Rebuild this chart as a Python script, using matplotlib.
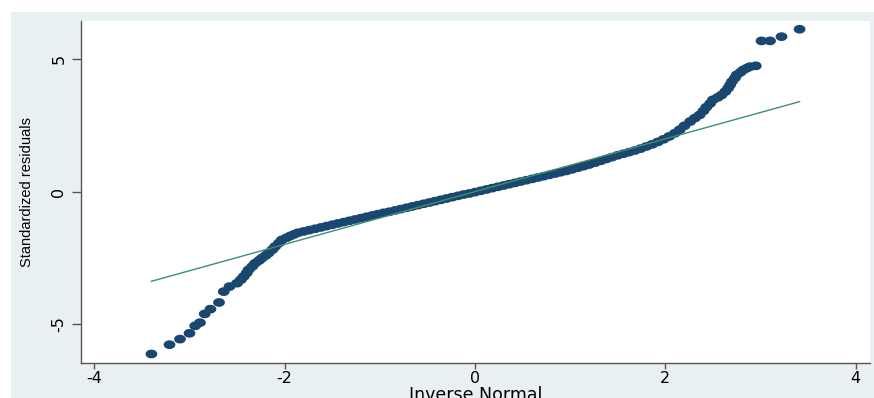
import numpy as np
import matplotlib
matplotlib.use("Agg")
import matplotlib.pyplot as plt
from matplotlib.path import Path
from matplotlib.patches import Rectangle

# quantile pairs: inverse normal (x) vs standardized residuals (y)
inv_normal = [
    -3.40, -3.21, -3.10, -3.00, -2.94, -2.89, -2.84, -2.78, -2.69, -2.64,
    -2.58, -2.50, -2.46, -2.43, -2.40, -2.38, -2.34, -2.31, -2.27, -2.24,
    -2.20, -2.17, -2.13, -2.10, -2.06, -2.03, -1.98, -1.94, -1.90,
    -1.86, -1.80, -1.74, -1.68, -1.62, -1.56, -1.50, -1.44, -1.38, -1.32,
    -1.26, -1.20, -1.14, -1.08, -1.02, -0.96, -0.90, -0.84, -0.78, -0.72,
    -0.66, -0.60, -0.54, -0.48, -0.42, -0.36, -0.30, -0.24, -0.18, -0.12,
    -0.06, 0.00, 0.06, 0.12, 0.18, 0.24, 0.30, 0.36, 0.42, 0.48,
    0.54, 0.60, 0.66, 0.72, 0.78, 0.84, 0.90, 0.96, 1.02, 1.08,
    1.14, 1.20, 1.26, 1.32, 1.38, 1.44, 1.50, 1.56, 1.62, 1.68,
    1.74, 1.80, 1.86, 1.92, 1.98, 2.04, 2.10,
    2.15, 2.20, 2.26, 2.31, 2.36, 2.40, 2.43, 2.47, 2.50, 2.55,
    2.59, 2.63, 2.66, 2.68, 2.70, 2.73, 2.75, 2.79, 2.82, 2.86,
    2.89, 2.95, 3.01, 3.10, 3.22, 3.41,
]
std_resid = [
    -6.12, -5.77, -5.56, -5.34, -5.06, -4.94, -4.61, -4.43, -4.18, -3.77,
    -3.58, -3.45, -3.32, -3.20, -3.07, -2.95, -2.82, -2.70, -2.60, -2.51,
    -2.41, -2.32, -2.19, -2.07, -1.94, -1.82, -1.74, -1.67, -1.61,
    -1.55, -1.50, -1.45, -1.40, -1.35, -1.30, -1.25, -1.20, -1.15, -1.10,
    -1.05, -1.00, -0.95, -0.90, -0.85, -0.80, -0.76, -0.71, -0.66, -0.61,
    -0.56, -0.51, -0.46, -0.41, -0.36, -0.31, -0.26, -0.21, -0.16, -0.11,
    -0.07, -0.02, 0.03, 0.08, 0.13, 0.18, 0.23, 0.28, 0.33, 0.38,
    0.43, 0.48, 0.53, 0.58, 0.63, 0.68, 0.73, 0.78, 0.84, 0.90,
    0.96, 1.02, 1.09, 1.16, 1.23, 1.30, 1.37, 1.43, 1.49, 1.55,
    1.62, 1.70, 1.78, 1.87, 1.97, 2.08, 2.20,
    2.33, 2.48, 2.64, 2.77, 2.89, 3.04, 3.18, 3.32, 3.46, 3.55,
    3.64, 3.77, 3.90, 4.02, 4.15, 4.28, 4.40, 4.50, 4.59, 4.66,
    4.71, 4.74, 5.68, 5.68, 5.84, 6.12,
]

# reference line end points
ref_x = [-3.40, 3.41]
ref_y = [-3.38, 3.39]

x_ticks = [-4, -2, 0, 2, 4]
y_ticks = [-5, 0, 5]

navy = "#1a476f"
green = "#3f8f6c"
panel = "#e9f0f2"

# slightly wide ellipse marker (the source image is stretched sideways)
t = np.linspace(0, 2 * np.pi, 40)
ellipse = Path(np.column_stack([1.35 * np.cos(t), np.sin(t)]), closed=True)

fig = plt.figure(figsize=(8.74, 3.98), dpi=100)
fig.patch.set_facecolor("white")
bg = Rectangle((11 / 874, 0), 1 - 11 / 874, 1 - 12 / 398,
               transform=fig.transFigure, facecolor=panel,
               edgecolor="none", zorder=-10)
fig.add_artist(bg)

ax = fig.add_axes([81 / 874, 35 / 398, 789 / 874, 342 / 398])
ax.set_zorder(1)
ax.set_facecolor("white")

ax.scatter(inv_normal, std_resid, s=72, marker=ellipse, color=navy,
           edgecolors="none", zorder=2)
ax.plot(ref_x, ref_y, color=green, linewidth=1.0, zorder=3)

ax.set_xlim(-4.14, 4.15)
ax.set_ylim(-6.46, 6.43)
ax.set_xticks(x_ticks)
ax.set_yticks(y_ticks)
ax.set_xticklabels([str(v) for v in x_ticks])
ax.set_yticklabels([str(v) for v in y_ticks], rotation=90, va="center")

for s in ["top", "right"]:
    ax.spines[s].set_visible(False)
for s in ["left", "bottom"]:
    ax.spines[s].set_color("#555555")
    ax.spines[s].set_linewidth(1.0)

ax.tick_params(axis="x", length=4, width=1, color="#555555", pad=2, labelsize=11.5)
ax.tick_params(axis="y", length=6.5, width=1, color="#555555", pad=4, labelsize=11.5)

ax.set_xlabel("Inverse Normal", fontsize=12.5)
ax.xaxis.set_label_coords(0.5, -0.066)
ax.set_ylabel("Standardized residuals", family="Liberation Sans", fontsize=10.5)
ax.yaxis.set_label_coords(-0.060, 0.5)

fig.savefig("out.png", dpi=100, facecolor="white")
